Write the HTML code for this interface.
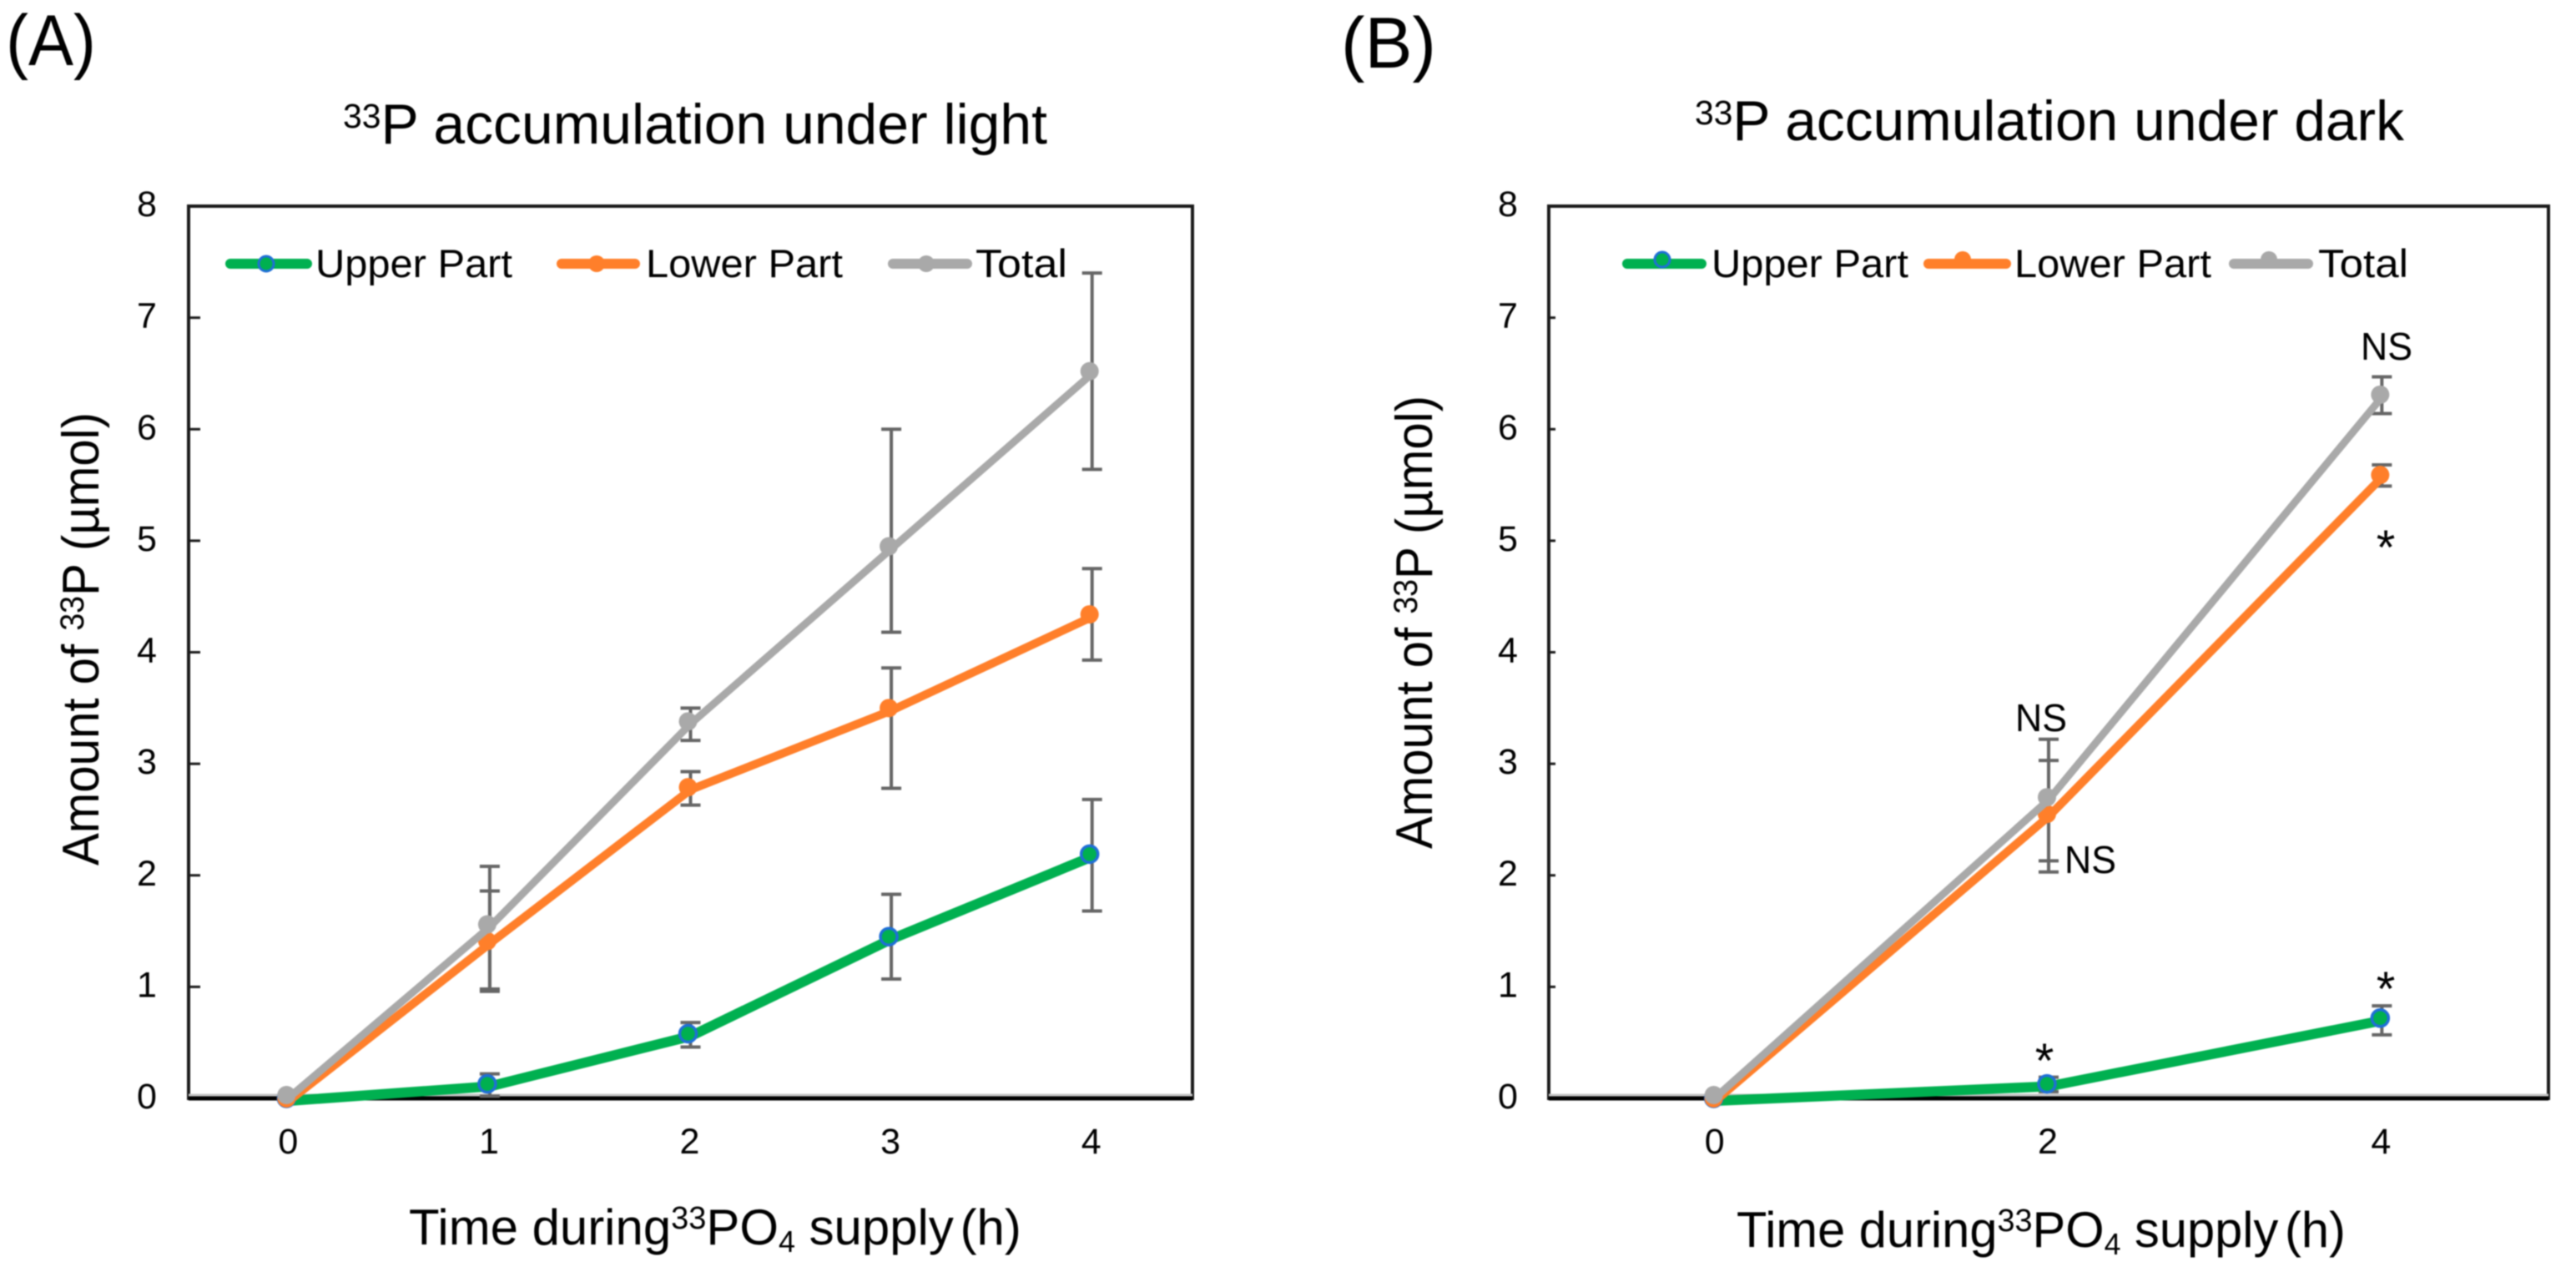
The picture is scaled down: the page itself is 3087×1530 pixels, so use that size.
<!DOCTYPE html>
<html lang="en">
<head>
<meta charset="utf-8">
<title>33P accumulation under light and dark</title>
<style>
html,body{margin:0;padding:0;background:#fff;width:3087px;height:1530px;overflow:hidden}
svg{display:block;filter:blur(0.8px)}
text{font-family:"Liberation Sans",sans-serif;fill:#000}
</style>
</head>
<body>
<svg id="figure" xmlns="http://www.w3.org/2000/svg" width="3087" height="1530" viewBox="0 0 3087 1530">
  <rect width="3087" height="1530" fill="#fff"/>

  <text x="7" y="78" font-size="86" textLength="108" lengthAdjust="spacingAndGlyphs">(A)</text>
  <text x="1607" y="81" font-size="86" textLength="114" lengthAdjust="spacingAndGlyphs">(B)</text>

  <text x="411" y="172" font-size="68" textLength="844" lengthAdjust="spacingAndGlyphs"><tspan font-size="41" dy="-19">33</tspan><tspan dy="19">P accumulation under light</tspan></text>
  <text x="2031" y="168" font-size="68" textLength="850" lengthAdjust="spacingAndGlyphs"><tspan font-size="41" dy="-19">33</tspan><tspan dy="19">P accumulation under dark</tspan></text>

  <text transform="translate(118,1037) rotate(-90)" font-size="62" textLength="543" lengthAdjust="spacingAndGlyphs">Amount of <tspan font-size="40" dy="-18">33</tspan><tspan dy="18">P (µmol)</tspan></text>
  <text transform="translate(1716,1017) rotate(-90)" font-size="62" textLength="543" lengthAdjust="spacingAndGlyphs">Amount of <tspan font-size="40" dy="-18">33</tspan><tspan dy="18">P (µmol)</tspan></text>

  <text id="x-title-a" font-size="60">Time during<tspan font-size="38" dy="-19">33</tspan><tspan dy="19">PO</tspan><tspan font-size="36" dy="9">4</tspan><tspan dy="-9"> supply</tspan><tspan font-size="28"> </tspan><tspan>(h)</tspan></text>
  <text id="x-title-b" font-size="60">Time during<tspan font-size="38" dy="-19">33</tspan><tspan dy="19">PO</tspan><tspan font-size="36" dy="9">4</tspan><tspan dy="-9"> supply</tspan><tspan font-size="28"> </tspan><tspan>(h)</tspan></text>

  <g id="panel-a"></g>
  <g id="panel-b"></g>

  <text x="2860" y="431" font-size="46" text-anchor="middle" textLength="62" lengthAdjust="spacingAndGlyphs">NS</text>
  <text x="2446" y="876" font-size="46" text-anchor="middle" textLength="62" lengthAdjust="spacingAndGlyphs">NS</text>
  <text x="2505" y="1046" font-size="46" text-anchor="middle" textLength="62" lengthAdjust="spacingAndGlyphs">NS</text>
  <text x="2859" y="676" font-size="58" text-anchor="middle">*</text>
  <text x="2859" y="1205" font-size="58" text-anchor="middle">*</text>
  <text x="2450" y="1291" font-size="58" text-anchor="middle">*</text>
</svg>

<script>
const yTickLabels = [0, 1, 2, 3, 4, 5, 6, 7, 8];

const categoriesA = [0, 1, 2, 3, 4];
const upperA = [0, 0.13, 0.58, 1.45, 2.19];
const lowerA = [0, 1.41, 2.79, 3.5, 4.34];
const totalA = [0.03, 1.56, 3.38, 4.95, 6.52];
const upperHighA = [null, 0.22, 0.68, 1.83, 2.68];
const upperLowA = [null, 0.02, 0.46, 1.07, 1.68];
const lowerHighA = [null, 1.86, 2.93, 3.86, 4.75];
const lowerLowA = [null, 0.96, 2.63, 2.78, 3.93];
const totalHighA = [null, 2.08, 3.5, 6.0, 7.4];
const totalLowA = [null, 0.98, 3.21, 4.18, 5.64];

const categoriesB = [0, 2, 4];
const upperB = [0, 0.13, 0.72];
const lowerB = [0, 2.55, 5.59];
const totalB = [0.03, 2.7, 6.31];
const upperHighB = [null, 0.19, 0.83];
const upperLowB = [null, 0.06, 0.57];
const lowerHighB = [null, 3.03, 5.68];
const lowerLowB = [null, 2.13, 5.49];
const totalHighB = [null, 3.22, 6.47];
const totalLowB = [null, 2.03, 6.14];

const seriesNames = ['Upper Part', 'Lower Part', 'Total'];

const SVGNS = 'http://www.w3.org/2000/svg';
function mk(parent, tag, attrs, txt) {
  const el = document.createElementNS(SVGNS, tag);
  for (const k in attrs) el.setAttribute(k, attrs[k]);
  if (txt !== undefined) el.textContent = txt;
  parent.appendChild(el);
  return el;
}

function fitText(id, x, y, width) {
  const el = document.getElementById(id);
  const natural = el.getBBox().width;
  el.setAttribute('transform', 'translate(' + x + ',' + y + ') scale(' + (width / natural) + ',1)');
}
fitText('x-title-a', 490, 1491, 734);
fitText('x-title-b', 2081, 1494, 730);

function drawPanel(cfg) {
  const g = document.getElementById(cfg.id);
  const slot = (cfg.right - cfg.left) / cfg.categories.length;
  const sx = i => cfg.left + slot * (i + 0.5);
  const sy = v => cfg.bottom - (v / 8) * (cfg.bottom - cfg.top);

  const plotBg = mk(g, 'rect', {x: cfg.left, y: cfg.top, width: cfg.right - cfg.left, height: cfg.bottom - cfg.top, fill: 'none', stroke: '#1a1a1a', 'stroke-width': 4});
  
  

  const zeroShade = mk(g, 'line', {x1: cfg.left, x2: cfg.right, y1: cfg.bottom - 4, y2: cfg.bottom - 4, stroke: '#c4c4c4', 'stroke-width': 3});
  
  
  const xAxis = mk(g, 'line', {x1: cfg.left, x2: cfg.right, y1: cfg.bottom, y2: cfg.bottom, stroke: '#000', 'stroke-width': 5});
  
  

  yTickLabels.forEach(v => {
    const y = sy(v);
    if (v > 0 && v < 8) {
      const tick = mk(g, 'line', {x1: cfg.left, x2: cfg.left + cfg.tickLen, y1: y, y2: y, stroke: '#1a1a1a', 'stroke-width': 3});
      
      
    }
    const lab = mk(g, 'text', {x: cfg.yLabelX, y: y + 12, 'font-size': 43, 'text-anchor': 'middle'}, String(v));
    
    
  });

  cfg.categories.forEach((c, i) => {
    const lab = mk(g, 'text', {x: sx(i) - 1, y: 1382, 'font-size': 43, 'text-anchor': 'middle'}, String(c));
    
    
  });

  cfg.series.forEach(s => {
    s.values.forEach((v, i) => {
      if (s.high[i] === null) return;
      const x = sx(i);
      const bar = mk(g, 'line', {x1: x, x2: x, y1: sy(s.high[i]), y2: sy(s.low[i]), stroke: '#666', 'stroke-width': 4});
      
      
      [s.high[i], s.low[i]].forEach(e => {
        const cap = mk(g, 'line', {x1: x - 12, x2: x + 12, y1: sy(e), y2: sy(e), stroke: '#666', 'stroke-width': 4});
        
        
      });
    });
  });

  cfg.series.forEach(s => {
    const pts = s.values.map((v, i) => sx(i) + ',' + (sy(v) + 3)).join(' ');
    const line = mk(g, 'polyline', {points: pts, fill: 'none', stroke: s.color, 'stroke-width': s.width, 'stroke-linejoin': 'round'});
    
    
    s.values.forEach((v, i) => {
      const dot = mk(g, 'circle', {cx: sx(i) - cfg.markerDx, cy: sy(v), r: s.stroke ? 10 : 11, fill: s.color, stroke: s.stroke || 'none', 'stroke-width': s.stroke ? 3.5 : 0});
      
      
    });
  });

  cfg.legend.forEach((e, i) => {
    const s = cfg.series[i];
    const row = mk(g, 'g', {});
    
    
    mk(row, 'line', {x1: e.x1 + 5, x2: e.x2 - 5, y1: 316, y2: 316, stroke: s.color, 'stroke-width': s.legendWidth, 'stroke-linecap': 'round'});
    mk(row, 'circle', {cx: e.mx, cy: e.my, r: s.stroke ? 9 : 10, fill: s.color, stroke: s.stroke || 'none', 'stroke-width': s.stroke ? 3 : 0});
    mk(row, 'text', {x: e.tx, y: 332, 'font-size': 47, textLength: e.tw, lengthAdjust: 'spacingAndGlyphs'}, seriesNames[i]);
  });
}

const green = '#00b050', orange = '#ff7f2a', grey = '#a9a9a9', blue = '#1f6fd6';

drawPanel({
  id: 'panel-a', left: 226, right: 1429, top: 247, bottom: 1316, tickLen: 14, yLabelX: 176, markerDx: 3,
  categories: categoriesA,
  series: [
    {values: upperA, high: upperHighA, low: upperLowA, color: green, width: 12, legendWidth: 12, stroke: blue},
    {values: lowerA, high: lowerHighA, low: lowerLowA, color: orange, width: 10, legendWidth: 12},
    {values: totalA, high: totalHighA, low: totalLowA, color: grey, width: 9, legendWidth: 12}
  ],
  legend: [
    {x1: 271, x2: 373, mx: 319, my: 316, tx: 378, tw: 236},
    {x1: 668, x2: 766, mx: 715, my: 316, tx: 774, tw: 236},
    {x1: 1065, x2: 1164, mx: 1110, my: 316, tx: 1169, tw: 110}
  ]
});

drawPanel({
  id: 'panel-b', left: 1856, right: 3054, top: 247, bottom: 1316, tickLen: 8, yLabelX: 1807, markerDx: 2,
  categories: categoriesB,
  series: [
    {values: upperB, high: upperHighB, low: upperLowB, color: green, width: 12, legendWidth: 12, stroke: blue},
    {values: lowerB, high: lowerHighB, low: lowerLowB, color: orange, width: 10, legendWidth: 12},
    {values: totalB, high: totalHighB, low: totalLowB, color: grey, width: 9, legendWidth: 12}
  ],
  legend: [
    {x1: 1945, x2: 2044, mx: 1992, my: 311, tx: 2051, tw: 236},
    {x1: 2306, x2: 2409, mx: 2352, my: 311, tx: 2414, tw: 236},
    {x1: 2672, x2: 2771, mx: 2719, my: 311, tx: 2778, tw: 108}
  ]
});
</script>
</body>
</html>
